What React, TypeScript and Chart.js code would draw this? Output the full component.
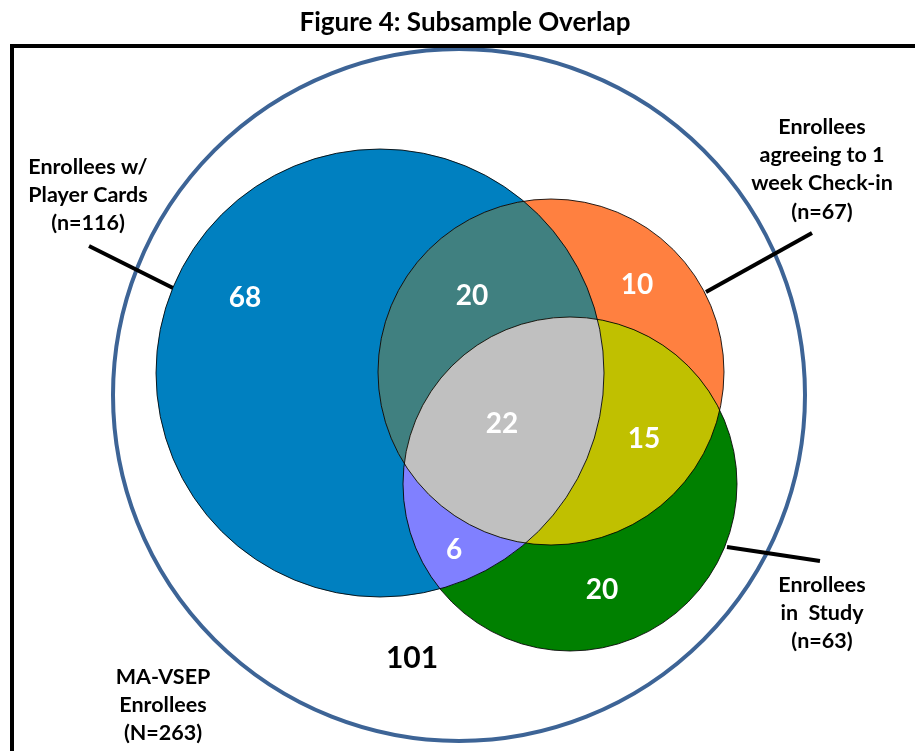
import React, { useEffect, useRef } from "react";
import { Chart, registerables } from "chart.js";

Chart.register(...registerables);

// ---- data ----
const TITLE = "Figure 4: Subsample Overlap";
const SET_NAMES = ["MA-VSEP Enrollees", "Enrollees w/ Player Cards", "Enrollees agreeing to 1 week Check-in", "Enrollees in Study"];
const SET_LABEL_LINES = [
  ["MA-VSEP", "Enrollees", "(N=263)"],
  ["Enrollees w/", "Player Cards", "(n=116)"],
  ["Enrollees", "agreeing to 1", "week Check-in", "(n=67)"],
  ["Enrollees", "in  Study", "(n=63)"],
];
const SET_SIZES = [263, 116, 67, 63];
const REGION_NAMES = [
  "Player Cards only",
  "Player Cards & Check-in",
  "Check-in only",
  "All three",
  "Check-in & Study",
  "Player Cards & Study",
  "Study only",
  "None",
];
const REGION_COUNTS = [68, 20, 10, 22, 15, 6, 20, 101];

// ---- layout (chart units) ----
const CIRCLE_X = [459, 380, 551, 570];
const CIRCLE_Y = [395, 373, 372, 484];
const CIRCLE_R = [346, 224, 173, 167];
const REGION_X = [245, 472, 637, 502, 644, 454, 602, 412];
const REGION_Y = [297, 295, 284, 423, 438, 549, 589, 657];
const SET_LABEL_X = [163, 88, 822, 822];
const SET_LABEL_Y = [676, 166, 126, 584];
const LEADERS = [null, [89, 246, 175, 289], [706, 292, 812, 233], [727, 547, 820, 561]];

// ---- styles ----
const FONT = "Lato, 'Open Sans', sans-serif";
const OUTER_COLOR = "#3D6496";
const COL_BLUE = "#0080C0";
const COL_ORANGE = "#FF8040";
const COL_GREEN = "#008000";
const COL_TEAL = "#408080";
const COL_PURPLE = "#8080FF";
const COL_YELLOW = "#C0C000";
const COL_GRAY = "#C0C0C0";

export default function App() {
  const ref = useRef<HTMLCanvasElement>(null);

  useEffect(() => {
    const canvas = ref.current!;
    const vennPlugin = {
      id: "venn",
      afterDatasetsDraw(chart: any) {
        const ctx = chart.ctx as CanvasRenderingContext2D;
        const xs = chart.scales.x;
        const ys = chart.scales.y;
        const centers = chart.getDatasetMeta(0).data;
        const labels = chart.getDatasetMeta(1).data;
        const rad = (i: number) => Math.abs(xs.getPixelForValue(CIRCLE_X[i] + CIRCLE_R[i]) - xs.getPixelForValue(CIRCLE_X[i]));
        const path = (i: number) => {
          ctx.beginPath();
          ctx.arc(centers[i].x, centers[i].y, rad(i), 0, Math.PI * 2);
        };
        const W = chart.width, H = chart.height;
        ctx.save();
        // outer circle
        path(0);
        ctx.lineWidth = 4;
        ctx.strokeStyle = OUTER_COLOR;
        ctx.stroke();
        // leader lines
        ctx.strokeStyle = "#000";
        ctx.lineWidth = 4;
        LEADERS.forEach((l) => {
          if (!l) return;
          ctx.beginPath();
          ctx.moveTo(xs.getPixelForValue(l[0]), ys.getPixelForValue(l[1]));
          ctx.lineTo(xs.getPixelForValue(l[2]), ys.getPixelForValue(l[3]));
          ctx.stroke();
        });
        // set fills
        const fills = [COL_BLUE, COL_ORANGE, COL_GREEN];
        fills.forEach((c, k) => {
          path(k + 1);
          ctx.fillStyle = c;
          ctx.fill();
        });
        const inter = (ids: number[], color: string) => {
          ctx.save();
          ids.forEach((i) => {
            path(i);
            ctx.clip();
          });
          ctx.fillStyle = color;
          ctx.fillRect(0, 0, W, H);
          ctx.restore();
        };
        inter([1, 2], COL_TEAL);
        inter([1, 3], COL_PURPLE);
        inter([2, 3], COL_YELLOW);
        inter([1, 2, 3], COL_GRAY);
        ctx.lineWidth = 1;
        ctx.strokeStyle = "rgba(0,0,0,0.85)";
        [1, 2, 3].forEach((i) => {
          path(i);
          ctx.stroke();
        });
        // frame
        ctx.beginPath();
        ctx.lineWidth = 4;
        ctx.strokeStyle = "#000";
        ctx.moveTo(xs.getPixelForValue(12), ys.getPixelForValue(760));
        ctx.lineTo(xs.getPixelForValue(12), ys.getPixelForValue(46));
        ctx.lineTo(xs.getPixelForValue(930), ys.getPixelForValue(46));
        ctx.stroke();
        // region counts
        ctx.textAlign = "center";
        ctx.textBaseline = "alphabetic";
        REGION_COUNTS.forEach((v, i) => {
          const isNone = i === REGION_COUNTS.length - 1;
          const fs = isNone ? 30 : 28;
          ctx.font = `bold ${fs}px ${FONT}`;
          ctx.fillStyle = isNone ? "#000" : "#fff";
          ctx.fillText(String(v), labels[i].x, labels[i].y + fs * 0.36);
        });
        // set labels
        ctx.fillStyle = "#000";
        const fs = 21.5;
        ctx.font = `bold ${fs}px ${FONT}`;
        SET_LABEL_LINES.forEach((lines, i) => {
          lines.forEach((t, j) => {
            const px = xs.getPixelForValue(SET_LABEL_X[i]);
            const py = ys.getPixelForValue(SET_LABEL_Y[i] + j * 28.3);
            ctx.fillText(t, px, py + fs * 0.36);
          });
        });
        // title
        ctx.font = `bold 26px ${FONT}`;
        ctx.fillText(TITLE, xs.getPixelForValue(465), ys.getPixelForValue(22) + 26 * 0.36);
        ctx.restore();
      },
    };

    const chart = new Chart(canvas, {
      type: "scatter",
      data: {
        datasets: [
          {
            label: "Sets",
            data: CIRCLE_X.map((x, i) => ({ x, y: CIRCLE_Y[i], n: SET_SIZES[i], name: SET_NAMES[i] })) as any,
            pointRadius: 0,
            pointHoverRadius: 0,
          },
          {
            label: "Regions",
            data: REGION_X.map((x, i) => ({ x, y: REGION_Y[i], name: REGION_NAMES[i] })) as any,
            pointRadius: 0,
            pointHoverRadius: 0,
          },
        ],
      },
      options: {
        animation: false,
        responsive: true,
        maintainAspectRatio: false,
        layout: { padding: 0 },
        scales: {
          x: { type: "linear", min: 0, max: 915, display: false },
          y: { type: "linear", min: 0, max: 751, reverse: true, display: false },
        },
        plugins: {
          legend: { display: false },
          tooltip: { enabled: false },
          title: { display: false },
        },
        events: [],
      },
      plugins: [vennPlugin],
    });
    return () => chart.destroy();
  }, []);

  return (
    <div style={{ position: "fixed", left: 0, top: 0, width: 915, height: 751, background: "#fff" }}>
      <canvas ref={ref} />
    </div>
  );
}
